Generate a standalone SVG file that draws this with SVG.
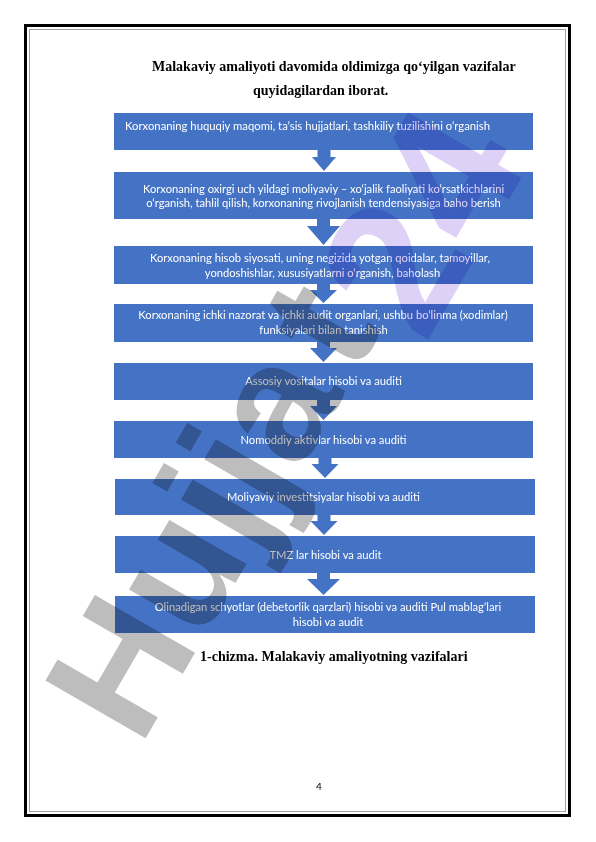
<svg xmlns="http://www.w3.org/2000/svg" width="596" height="842" viewBox="0 0 596 842">
<style>
.box{fill:#4472c4}
.arr{fill:#4472c4}
.bt{font-family:Lato,"Open Sans","Noto Sans",sans-serif;font-size:11.2px;fill:#ffffff;text-anchor:middle}
.ttl{font-family:"Liberation Serif","Times New Roman",serif;font-size:14px;font-weight:bold;fill:#000000}
.wm{font-family:"Liberation Sans",Arial,sans-serif;font-weight:bold;mix-blend-mode:multiply}
</style>
<rect x="0" y="0" width="596" height="842" fill="#ffffff"/>
<g id="page-border">
<rect x="25.5" y="25.5" width="544" height="790" fill="none" stroke="#000000" stroke-width="3"/>
<rect x="29.5" y="29.5" width="536" height="782" fill="none" stroke="#a0a0a0" stroke-width="1"/>
</g>
<g id="title">
<text class="ttl" x="152" y="71">Malakaviy amaliyoti davomida oldimizga qo‘yilgan vazifalar</text>
<text class="ttl" x="253" y="95">quyidagilardan iborat.</text>
</g>
<g id="connectors">
<polygon class="arr" points="317.5,150 330.5,150 330.5,157 336,157 324,171 312,157 317.5,157"/>
<polygon class="arr" points="317,219 330,219 330,226 340,226 323.5,245 307,226 317,226"/>
<polygon class="arr" points="317,284 330,284 330,290 337,290 323.5,303 310,290 317,290"/>
<polygon class="arr" points="317,342 330,342 330,348 337,348 323.5,362 310,348 317,348"/>
<polygon class="arr" points="317,400 330,400 330,406 337,406 323.5,420 310,406 317,406"/>
<polygon class="arr" points="318.5,458 331.5,458 331.5,464 338.5,464 325,478 311.5,464 318.5,464"/>
<polygon class="arr" points="317.5,515 330.5,515 330.5,521 337.5,521 324,535 310.5,521 317.5,521"/>
<polygon class="arr" points="317,573 330,573 330,579 340,579 323.5,595 307,579 317,579"/>
</g>
<g id="node-1">
<rect class="box" x="114" y="113" width="419" height="37"/>
<text class="bt" x="125" y="130" style="text-anchor:start" textLength="365" lengthAdjust="spacingAndGlyphs">Korxonaning huquqiy maqomi, ta’sis hujjatlari, tashkiliy tuzilishini o‘rganish</text>
</g>
<g id="node-2">
<rect class="box" x="114" y="172" width="419" height="47"/>
<text class="bt" x="323.5" y="193">Korxonaning oxirgi uch yildagi moliyaviy – xo‘jalik faoliyati ko‘rsatkichlarini</text>
<text class="bt" x="323.5" y="207">o‘rganish, tahlil qilish, korxonaning rivojlanish tendensiyasiga baho berish</text>
</g>
<g id="node-3">
<rect class="box" x="114" y="246" width="419" height="38"/>
<text class="bt" x="320" y="262">Korxonaning hisob siyosati, uning negizida yotgan qoidalar, tamoyillar,</text>
<text class="bt" x="322.5" y="277">yondoshishlar, xususiyatlarni o‘rganish, baholash</text>
</g>
<g id="node-4">
<rect class="box" x="114" y="304" width="419" height="38"/>
<text class="bt" x="323" y="319">Korxonaning ichki nazorat va ichki audit organlari, ushbu bo‘linma (xodimlar)</text>
<text class="bt" x="323.5" y="334">funksiyalari bilan tanishish</text>
</g>
<g id="node-5">
<rect class="box" x="114" y="363" width="419" height="37"/>
<text class="bt" x="323.5" y="385">Assosiy vositalar hisobi va auditi</text>
</g>
<g id="node-6">
<rect class="box" x="114" y="421" width="419" height="37"/>
<text class="bt" x="323.5" y="444">Nomoddiy aktivlar hisobi va auditi</text>
</g>
<g id="node-7">
<rect class="box" x="115" y="479" width="420" height="36"/>
<text class="bt" x="323.5" y="501">Moliyaviy investitsiyalar hisobi va auditi</text>
</g>
<g id="node-8">
<rect class="box" x="115" y="536" width="420" height="37"/>
<text class="bt" x="325.5" y="559">TMZ lar hisobi va audit</text>
</g>
<g id="node-9">
<rect class="box" x="115" y="596" width="420" height="37"/>
<text class="bt" x="328" y="611">Olinadigan schyotlar (debetorlik qarzlari) hisobi va auditi Pul mablag‘lari</text>
<text class="bt" x="328" y="626">hisobi va audit</text>
</g>
<g id="caption">
<text class="ttl" x="200" y="661">1-chizma. Malakaviy amaliyotning vazifalari</text>
</g>
<g id="page-number">
<text x="319" y="790" style="font-family:Lato,'Liberation Sans',sans-serif;font-size:10px;fill:#000000;text-anchor:middle">4</text>
</g>
<g id="watermark">
<text class="wm" transform="translate(140,748) rotate(-60)" style="font-size:168px;fill:#bdbdbd">Hujja<tspan dx="18">t</tspan></text>
<text class="wm" transform="translate(425,345) rotate(-60)" style="font-size:190px;fill:#ddd1f8">24</text>
</g>
</svg>
